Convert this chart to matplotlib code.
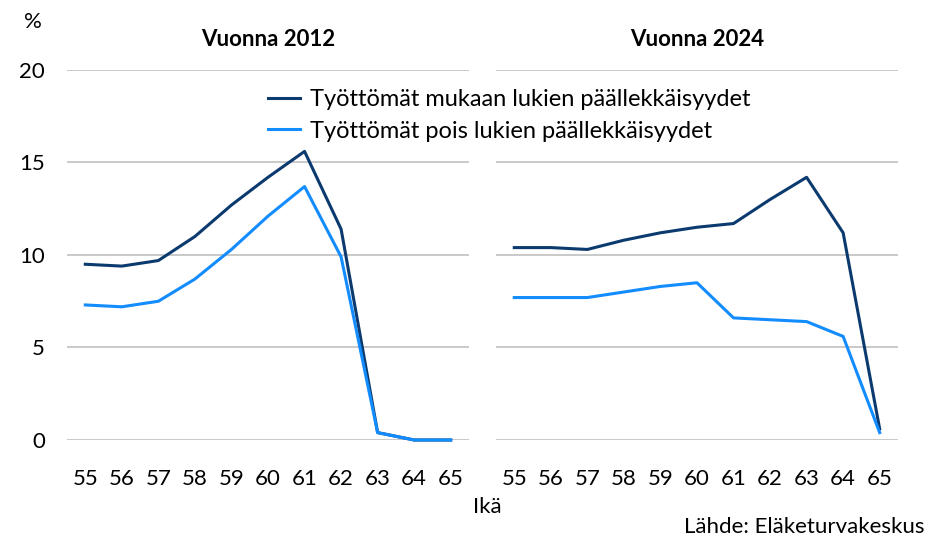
import matplotlib.pyplot as plt

ages = [55, 56, 57, 58, 59, 60, 61, 62, 63, 64, 65]

# Vuonna 2012
mukaan_2012 = [9.5, 9.4, 9.7, 11.0, 12.7, 14.2, 15.6, 11.4, 0.4, 0.0, 0.0]
pois_2012 = [7.3, 7.2, 7.5, 8.7, 10.3, 12.1, 13.7, 9.9, 0.4, 0.0, 0.0]

# Vuonna 2024
mukaan_2024 = [10.4, 10.4, 10.3, 10.8, 11.2, 11.5, 11.7, 13.0, 14.2, 11.2, 0.6]
pois_2024 = [7.7, 7.7, 7.7, 8.0, 8.3, 8.5, 6.6, 6.5, 6.4, 5.6, 0.4]

label_mukaan = 'Työttömät mukaan lukien päällekkäisyydet'
label_pois = 'Työttömät pois lukien päällekkäisyydet'
dark = '#0B3A6E'
light = '#128CFF'
grid_col = '#C0C0C0'

plt.rcParams['font.family'] = ['Lato', 'DejaVu Sans']

fig = plt.figure(figsize=(9.48, 5.52), dpi=100)
ax1 = fig.add_axes([0.0707, 0.2029, 0.424, 0.6703])
ax2 = fig.add_axes([0.5232, 0.2029, 0.424, 0.6703])

panels = [(ax1, mukaan_2012, pois_2012, 'Vuonna 2012'),
          (ax2, mukaan_2024, pois_2024, 'Vuonna 2024')]

for ax, muk, pois, title in panels:
    ax.plot(ages, muk, color=dark, lw=2.2, label=label_mukaan, clip_on=False, zorder=3)
    ax.plot(ages, pois, color=light, lw=2.2, label=label_pois, clip_on=False, zorder=3)
    ax.set_xlim(54.5, 65.5)
    ax.set_ylim(0, 20)
    ax.set_yticks([0, 5, 10, 15, 20])
    ax.set_xticks(ages)
    ax.yaxis.grid(True, color=grid_col, lw=1.2)
    ax.set_axisbelow(True)
    for s in ax.spines.values():
        s.set_visible(False)
    ax.tick_params(length=0, labelsize=16)
    ax.tick_params(axis='x', pad=21)
    ax.text(0.5, 1.055, title, transform=ax.transAxes, ha='center', va='bottom',
            fontsize=16, fontweight='bold')

ax2.tick_params(labelleft=False)
ax1.tick_params(axis='y', pad=16)

fig.text(33 / 948, 1 - 22 / 552, '%', ha='center', va='center', fontsize=16)
fig.text(487 / 948, 1 - 507 / 552, 'Ikä', ha='center', va='center', fontsize=16)
fig.text(925 / 948, 1 - 527 / 552, 'Lähde: Eläketurvakeskus', ha='right', va='center', fontsize=16)

handles, labels = ax1.get_legend_handles_labels()
fig.legend(handles, labels, loc='upper left', bbox_to_anchor=(268 / 948, 1 - 89 / 552),
           frameon=False, fontsize=17, handlelength=1.35, handletextpad=0.45,
           labelspacing=0.45, borderpad=0, borderaxespad=0)

fig.savefig('out.png', dpi=100)
